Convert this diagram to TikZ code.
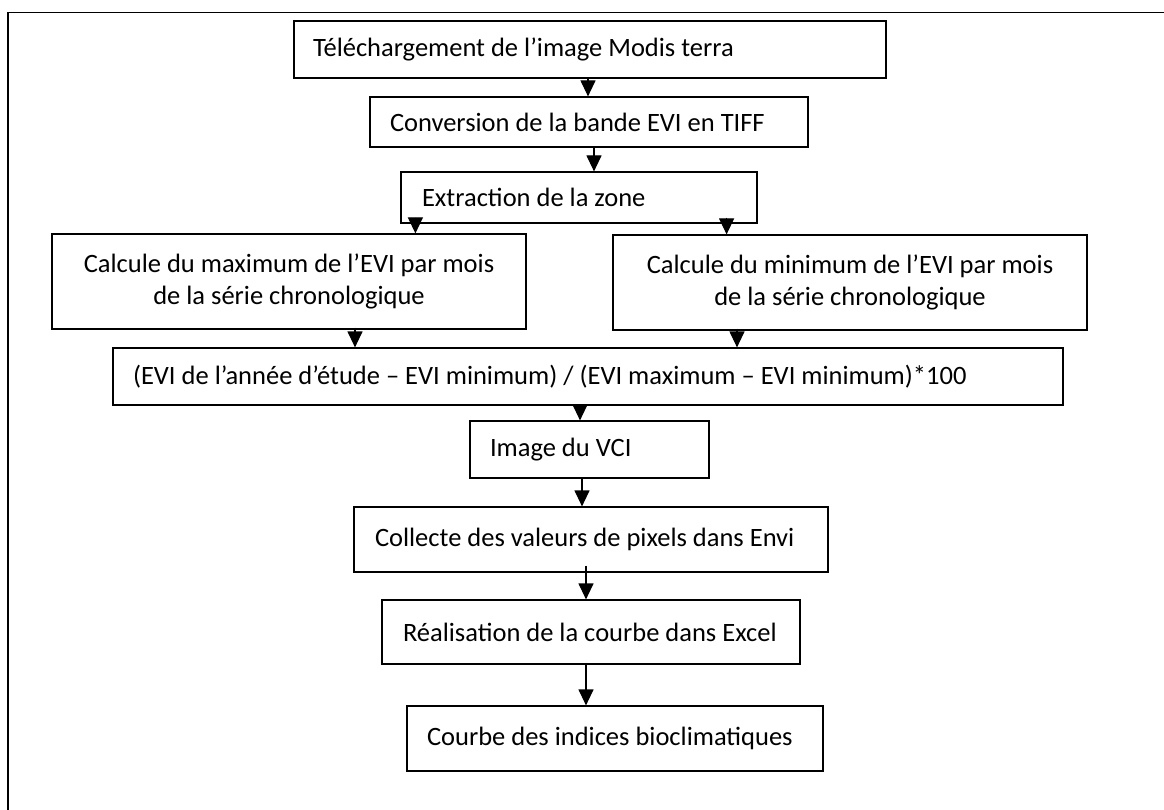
\documentclass[tikz,border=0pt]{standalone}
\usepackage{fontspec}
\setmainfont{Carlito}
\usetikzlibrary{arrows.meta,calc}
\begin{document}
\begin{tikzpicture}[x=1pt,y=-1pt,
  stepbox/.style={draw=black, line width=1.2pt, inner sep=0pt, font=\fontsize{26.5}{32}\selectfont},
  arr/.style={-{Triangle[width=15pt,length=16pt]}, line width=1.2pt},
  frameline/.style={draw=black, line width=1.3pt}]
\useasboundingbox (0,0) rectangle (1164,810);
\draw[frameline] (8,810) -- (8,12.7) -- (1164,12.7);

\node[stepbox, minimum height=57pt] (tele) at (590,49.5)
  {\makebox[592pt][l]{\hspace*{19pt}Téléchargement de l’image Modis terra}};
\node[stepbox, minimum height=50pt] (conv) at (589,122)
  {\makebox[438pt][l]{\hspace*{20pt}Conversion de la bande EVI en TIFF}};
\node[stepbox, minimum height=51pt] (extr) at (579,197.5)
  {\makebox[356pt][l]{\hspace*{21pt}Extraction de la zone}};
\node[stepbox, minimum width=474pt, minimum height=95pt, align=center] (cmax) at (289,281.5)
  {Calcule du maximum de l’EVI par mois\\de la série chronologique};
\node[stepbox, minimum width=474pt, minimum height=95pt, align=center] (cmin) at (850,282.5)
  {Calcule du minimum de l’EVI par mois\\de la série chronologique};
\node[stepbox, minimum height=57pt] (form) at (588,376.5)
  {\makebox[950pt][l]{\hspace*{20pt}(EVI de l’année d’étude – EVI minimum) / (EVI maximum – EVI minimum)*100}};
\node[stepbox, minimum height=57pt] (vci) at (589.5,449.5)
  {\makebox[239pt][l]{\hspace*{20pt}Image du VCI}};
\node[stepbox, minimum height=65pt] (coll) at (591,539.5)
  {\makebox[474pt][l]{\hspace*{21pt}Collecte des valeurs de pixels dans Envi}};
\node[stepbox, minimum height=64pt] (real) at (591,632)
  {\makebox[418pt][l]{\hspace*{21pt}Réalisation de la courbe dans Excel}};
\node[stepbox, minimum height=65pt] (courbe) at (615,738.5)
  {\makebox[416pt][l]{\hspace*{20pt}Courbe des indices bioclimatiques}};

\draw[arr] ([xshift=-2pt]tele.south) -- ([xshift=-2pt]tele.south |- conv.north);
\draw[arr] ([xshift=5pt]conv.south) -- ([xshift=5pt]conv.south |- extr.north);
\draw[arr] ([xshift=15pt,yshift=6pt]extr.south west) -- ([xshift=15pt]extr.south west |- cmax.north);
\draw[arr] ([xshift=-31pt,yshift=6pt]extr.south east) -- ([xshift=-31pt]extr.south east |- cmin.north);
\draw[arr] ([xshift=66pt,yshift=2pt]cmax.south) -- ([xshift=66pt]cmax.south |- form.north);
\draw[arr] ([xshift=-113pt,yshift=2pt]cmin.south) -- ([xshift=-113pt]cmin.south |- form.north);
\draw[arr] ([xshift=-9.5pt]vci.north |- form.south) -- ([xshift=-9.5pt]vci.north);
\draw[arr] ([xshift=-7.5pt]vci.south) -- ([xshift=-7.5pt]vci.south |- coll.north);
\draw[arr] ([xshift=-5pt,yshift=7pt]coll.south) -- ([xshift=-5pt]coll.south |- real.north);
\draw[arr] ([xshift=-5pt,yshift=2pt]real.south) -- ([xshift=-5pt]real.south |- courbe.north);
\end{tikzpicture}
\end{document}
